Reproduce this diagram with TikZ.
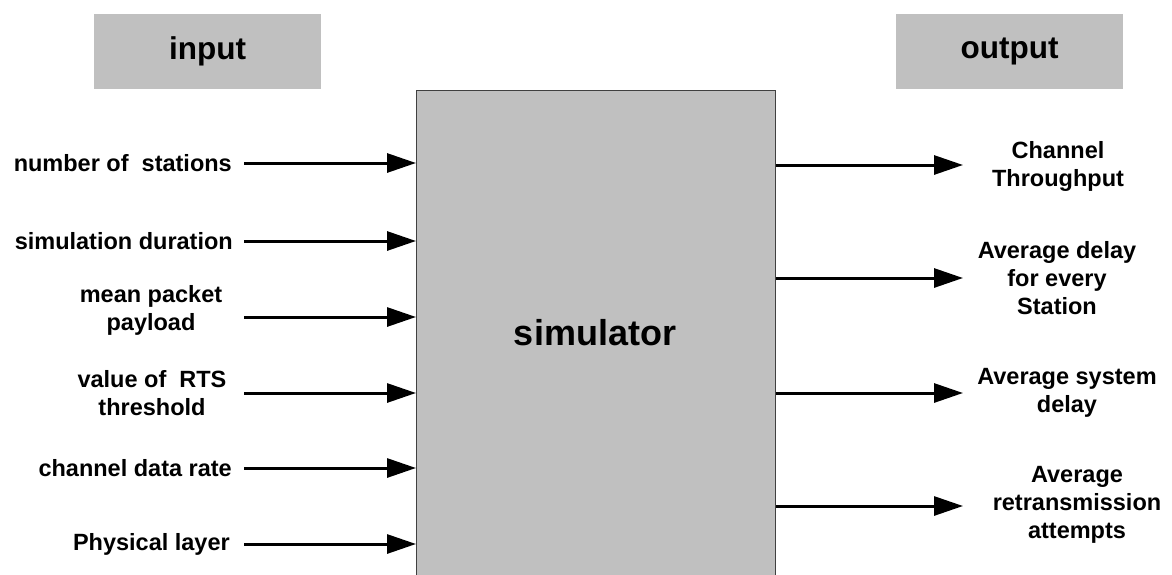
\documentclass[tikz,border=0pt]{standalone}
\usepackage{fontspec}
\setmainfont{Liberation Sans}
\usetikzlibrary{arrows.meta}
\definecolor{boxgray}{HTML}{C0C0C0}
\definecolor{edgegray}{HTML}{404040}
\tikzset{
  lbl/.style={font=\bfseries\fontsize{23.5}{28}\selectfont, inner sep=0pt, align=center},
  head/.style={fill=boxgray, minimum width=227pt, minimum height=75pt, inner sep=0pt, font=\bfseries\fontsize{31.5}{36}\selectfont},
  arr/.style={line width=3pt, -{Triangle[length=29pt,width=19pt]}}
}
\begin{document}
\begin{tikzpicture}[x=1pt,y=-1pt]
\clip (0,0) rectangle (1172,574);
\fill[white] (0,0) rectangle (1172,574);
% headers
\node[head] (inp) at (207.5,51.5) {input};
\node[head] (outp) at (1009.5,51.5) {output};
% simulator box
\node[draw=edgegray, line width=1pt, fill=boxgray, minimum width=359pt, minimum height=520pt, inner sep=0pt, anchor=north west] (sim) at (416,90) {};
\node[font=\bfseries\fontsize{36}{40}\selectfont, inner sep=0pt] (simtxt) at (595,333) {simulator};
% input labels
\node[lbl, anchor=east] (i1) at (232,163) {number of\ \ stations};
\node[lbl, anchor=east] (i2) at (233,241) {simulation duration};
\node[lbl] (i3) at (151,310) {mean packet\\payload};
\node[lbl] (i4) at (152,393) {value of\ \ RTS\\threshold};
\node[lbl, anchor=east] (i5) at (232,468) {channel data rate};
\node[lbl, anchor=east] (i6) at (230,544) {Physical layer};
% input arrow starts
\coordinate (s1) at (244,163);
\coordinate (s2) at (244,241);
\coordinate (s3) at (244,317);
\coordinate (s4) at (244,393);
\coordinate (s5) at (244,468);
\coordinate (s6) at (244,544);
\foreach \k in {1,...,6} {
  \draw[arr] (s\k) -- (sim.west |- s\k);
}
% output labels
\node[lbl] (o1) at (1058,166) {Channel\\Throughput};
\node[lbl] (o2) at (1057,278) {Average delay\\for every\\Station};
\node[lbl] (o3) at (1067,393) {Average system\\delay};
\node[lbl] (o4) at (1077,505) {Average\\retransmission\\attempts};
% output arrow ends
\coordinate (e1) at (963,165);
\coordinate (e2) at (963,278);
\coordinate (e3) at (963,393);
\coordinate (e4) at (963,506);
\foreach \k in {1,...,4} {
  \draw[arr] (sim.east |- e\k) -- (e\k);
}
\end{tikzpicture}
\end{document}
